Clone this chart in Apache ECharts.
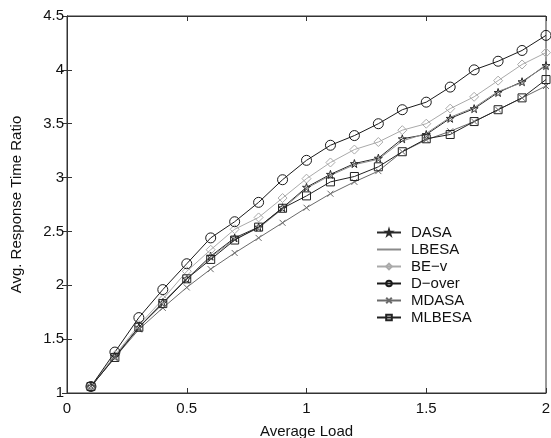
<!DOCTYPE html>
<html>
<head>
<meta charset="utf-8">
<script src="https://cdn.jsdelivr.net/npm/echarts@6/dist/echarts.min.js"></script>
<style>
  html, body { margin: 0; padding: 0; background: #fff; }
  #chart { width: 551px; height: 438px; }
</style>
</head>
<body>
<div id="chart"></div>
<script>
// Average load (x) and response time ratio per scheduling scheme
const loads = [0.1, 0.2, 0.3, 0.4, 0.5, 0.6, 0.7, 0.8, 0.9, 1.0,
               1.1, 1.2, 1.3, 1.4, 1.5, 1.6, 1.7, 1.8, 1.9, 2.0];

const dasa   = [1.06, 1.34, 1.61, 1.84, 2.06, 2.27, 2.44, 2.54, 2.72, 2.91,
                3.03, 3.13, 3.18, 3.36, 3.40, 3.55, 3.64, 3.79, 3.89, 4.04];
const lbesa  = [1.06, 1.34, 1.61, 1.84, 2.06, 2.26, 2.43, 2.53, 2.71, 2.90,
                3.02, 3.12, 3.17, 3.34, 3.41, 3.56, 3.65, 3.80, 3.88, 4.05];
const bev    = [1.06, 1.35, 1.63, 1.87, 2.13, 2.33, 2.52, 2.63, 2.81, 2.99,
                3.14, 3.26, 3.33, 3.44, 3.50, 3.64, 3.75, 3.90, 4.05, 4.16];
const dover  = [1.06, 1.38, 1.70, 1.96, 2.20, 2.44, 2.59, 2.77, 2.98, 3.16,
                3.30, 3.39, 3.50, 3.63, 3.70, 3.84, 4.00, 4.08, 4.18, 4.32];
const mdasa  = [1.06, 1.33, 1.59, 1.79, 1.98, 2.15, 2.30, 2.44, 2.58, 2.72,
                2.85, 2.96, 3.06, 3.24, 3.35, 3.43, 3.52, 3.63, 3.74, 3.85];
const mlbesa = [1.06, 1.33, 1.61, 1.83, 2.06, 2.24, 2.42, 2.54, 2.715, 2.83,
                2.96, 3.01, 3.10, 3.24, 3.36, 3.40, 3.52, 3.63, 3.74, 3.91];

const xTicks = [0, 0.5, 1, 1.5, 2];
const yTicks = [1, 1.5, 2, 2.5, 3, 3.5, 4, 4.5];

const FONT = '"Liberation Sans", Arial, Helvetica, sans-serif';

const STAR = 'path://M50,0 L61,35 L98,35 L68,57 L79,91 L50,70 L21,91 L32,57 L2,35 L39,35 Z';
const CROSS = 'path://M0,0 L10,10 M10,0 L0,10';

function pairs(ys) {
  return loads.map((x, i) => [x, ys[i]]);
}

function lineSeries(name, ys, color, symbol, size) {
  return {
    name: name,
    type: 'line',
    data: pairs(ys),
    symbol: symbol,
    symbolSize: size,
    showSymbol: size > 0,
    lineStyle: { color: color, width: 1 },
    itemStyle: { color: 'rgba(255,255,255,0)', borderColor: color, borderWidth: 1 },
    emphasis: { disabled: true },
    animation: false,
    z: 3
  };
}

const chart = echarts.init(document.getElementById('chart'), null, { renderer: 'canvas' });

const tickStyle = { show: true, inside: true, length: 5, lineStyle: { color: '#333', width: 1 } };

chart.setOption({
  backgroundColor: '#ffffff',
  animation: false,
  textStyle: { fontFamily: FONT },
  grid: {
    left: 67, right: 5, top: 16, bottom: 45,
    outerBoundsMode: 'none', containLabel: false,
    show: true, borderColor: '#333', borderWidth: 1, backgroundColor: 'transparent'
  },
  legend: {
    orient: 'vertical',
    left: 376, top: 225, padding: 0,
    itemWidth: 24, itemHeight: 7, itemGap: 2,
    textStyle: { fontFamily: FONT, fontSize: 15, color: '#111', padding: [0, 0, 0, 5] },
    data: [
      'DASA',
      // plain line, no marker
      { name: 'LBESA', itemStyle: { opacity: 0 } },
      'BE\u2212v', 'D\u2212over', 'MDASA', 'MLBESA'
    ]
  },
  xAxis: [{
    type: 'value', min: xTicks[0], max: xTicks[xTicks.length - 1], interval: 0.5,
    name: 'Average Load', nameLocation: 'middle', nameGap: 31,
    nameTextStyle: { fontFamily: FONT, fontSize: 15, color: '#111' },
    axisLine: { show: true, lineStyle: { color: '#333' } },
    axisTick: tickStyle,
    axisLabel: { fontFamily: FONT, fontSize: 15, color: '#111', margin: 8 },
    splitLine: { show: false }
  }, {
    type: 'value', position: 'top', min: xTicks[0], max: xTicks[xTicks.length - 1], interval: 0.5,
    axisLine: { show: true, lineStyle: { color: '#333' } },
    axisTick: tickStyle,
    axisLabel: { show: false },
    splitLine: { show: false }
  }],
  yAxis: [{
    type: 'value', min: yTicks[0], max: yTicks[yTicks.length - 1], interval: 0.5,
    name: 'Avg. Response Time Ratio', nameLocation: 'middle', nameGap: 43,
    nameTextStyle: { fontFamily: FONT, fontSize: 15, color: '#111' },
    axisLine: { show: true, lineStyle: { color: '#333' } },
    axisTick: tickStyle,
    axisLabel: { fontFamily: FONT, fontSize: 15, color: '#111', margin: 3 },
    splitLine: { show: false }
  }, {
    type: 'value', position: 'right', min: yTicks[0], max: yTicks[yTicks.length - 1], interval: 0.5,
    axisLine: { show: true, lineStyle: { color: '#333' } },
    axisTick: tickStyle,
    axisLabel: { show: false },
    splitLine: { show: false }
  }],
  series: [
    lineSeries('DASA', dasa, '#2a2a2a', STAR, 8),
    lineSeries('LBESA', lbesa, '#8a8a8a', 'circle', 0),
    lineSeries('BE\u2212v', bev, '#aaaaaa', 'diamond', 9),
    lineSeries('D\u2212over', dover, '#1a1a1a', 'circle', 10),
    lineSeries('MDASA', mdasa, '#6a6a6a', CROSS, 6),
    lineSeries('MLBESA', mlbesa, '#222222', 'rect', 8)
  ]
});
</script>
</body>
</html>
